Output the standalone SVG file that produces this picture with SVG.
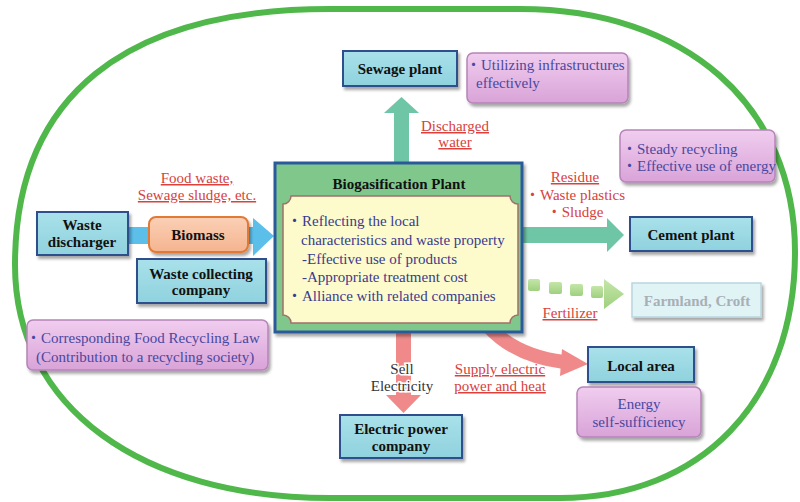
<svg xmlns="http://www.w3.org/2000/svg" width="800" height="502" viewBox="0 0 800 502">
<defs>
<filter id="sh" x="-10%" y="-10%" width="130%" height="150%"><feDropShadow dx="2" dy="3" stdDeviation="1.8" flood-color="#000" flood-opacity="0.35"/></filter>
<linearGradient id="gBlue" x1="0" y1="0" x2="0" y2="1"><stop offset="0" stop-color="#a9e1ea"/><stop offset="1" stop-color="#8fd2de"/></linearGradient>
<linearGradient id="gPink" x1="0" y1="0" x2="0" y2="1"><stop offset="0" stop-color="#f0cdef"/><stop offset="1" stop-color="#d9a3d8"/></linearGradient>
<linearGradient id="gOrange" x1="0" y1="0" x2="0" y2="1"><stop offset="0" stop-color="#fbd0b6"/><stop offset="1" stop-color="#f5b48f"/></linearGradient>
<linearGradient id="gGreenDot" x1="0" y1="0" x2="0" y2="1"><stop offset="0" stop-color="#c4e6a8"/><stop offset="1" stop-color="#9fd07f"/></linearGradient>
<style>
.box{fill:url(#gBlue);stroke:#2e4f8c;stroke-width:2;filter:url(#sh)}
.pbox{fill:url(#gPink);stroke:#b584b8;stroke-width:1.5;filter:url(#sh)}
.lbl{font-family:"Liberation Serif","Times New Roman",serif;font-size:15px;font-weight:bold;fill:#111;text-anchor:middle}
.ptx{font-family:"Liberation Serif","Times New Roman","Noto Sans CJK JP",serif;font-size:15px;fill:#4848a0}
.itx{font-family:"Liberation Serif","Times New Roman","Noto Sans CJK JP",serif;font-size:15px;fill:#3a3a8e}
.red{font-family:"Liberation Serif","Times New Roman","Noto Sans CJK JP",serif;font-size:15px;fill:#d8413c;text-anchor:middle}
.ul{text-decoration:underline}
.teal{fill:#6fc6a7}
.pinkA{fill:#f08a8a}
</style>
</defs>
<rect width="800" height="502" fill="#fff"/>
<path d="M15 265 C15 96 125 9 330 9 L520 9 C685 9 795 105 795 252 C795 401 701 498 560 498 L330 498 C141 498 15 407 15 265 Z" fill="none" stroke="#50b84b" stroke-width="6"/>

<g id="connectors">
<!-- biomass flow -->
<polygon points="128,227 253,227 253,218 274,236 253,256 253,244 128,244" fill="#5bbfea"/>
<!-- discharged water (up) -->
<polygon class="teal" points="394,164 394,113 384,113 401.5,97 419,113 409,113 409,164"/>
<!-- residue to cement -->
<polygon class="teal" points="522,227 607,227 607,218 624,235 607,252 607,243 522,243"/>
<!-- fertilizer dotted -->
<g fill="url(#gGreenDot)">
<rect x="528" y="279" width="12" height="12" rx="2"/>
<rect x="549" y="282" width="13" height="12" rx="2"/>
<rect x="570" y="284" width="13" height="12" rx="2"/>
<rect x="591" y="286" width="12" height="12" rx="2"/>
<polygon points="604,279 624,294 604,309"/>
</g>
<!-- sell electricity (down) -->
<polygon class="pinkA" points="396,332 396,395 386,395 403.5,413 421,395 411,395 411,332"/>
<!-- supply to local area -->
<path d="M488 326 Q515 356 564 362" fill="none" stroke="#f08a8a" stroke-width="14"/>
<polygon class="pinkA" points="562,349 588,364 560,376"/>
</g>

<g id="waste-discharger">
<rect class="box" x="37" y="212" width="91" height="43"/>
<text class="lbl" x="82" y="230">Waste</text>
<text class="lbl" x="82" y="247">discharger</text>
</g>
<g id="biomass">
<rect x="149" y="217" width="99" height="35" rx="7" fill="url(#gOrange)" stroke="#e07a36" stroke-width="2" filter="url(#sh)"/>
<text class="lbl" x="198" y="240">Biomass</text>
</g>
<g id="label-food-waste">
<text class="red ul" x="197" y="183">Food waste,</text>
<text class="red ul" x="197" y="200">Sewage sludge, etc.</text>
</g>
<g id="waste-collecting-company">
<rect class="box" x="137" y="259" width="129" height="44"/>
<text class="lbl" x="201" y="279">Waste collecting</text>
<text class="lbl" x="201" y="295">company</text>
</g>
<g id="food-recycling-law">
<rect class="pbox" x="27" y="320" width="241" height="50" rx="6"/>
<text class="ptx" x="26" y="343">・Corresponding Food Recycling Law</text>
<text class="ptx" x="36" y="362">(Contribution to a recycling society)</text>
</g>

<g id="biogasification-plant">
<rect x="275" y="163" width="247" height="169" fill="#80c78c" stroke="#2a5a9c" stroke-width="3" filter="url(#sh)"/>
<text class="lbl" x="399" y="189">Biogasification Plant</text>
<path d="M291 196 H510 A8 8 0 0 0 518 204 V315 A8 8 0 0 0 510 323 H291 A8 8 0 0 0 283 315 V204 A8 8 0 0 0 291 196 Z" fill="#fdfacc" stroke="#a0706a" stroke-width="1.5"/>
<text class="itx" x="287" y="226">・Reflecting the local</text>
<text class="itx" x="301" y="245">characteristics and waste property</text>
<text class="itx" x="302" y="264">-Effective use of  products</text>
<text class="itx" x="302" y="282">-Appropriate treatment cost</text>
<text class="itx" x="287" y="301">・Alliance with related companies</text>
</g>

<g id="sewage-plant">
<rect class="box" x="343" y="51" width="114" height="35"/>
<text class="lbl" x="400" y="74">Sewage plant</text>
</g>
<g id="infrastructures-note">
<rect class="pbox" x="467" y="53" width="161" height="50" rx="6"/>
<text class="ptx" x="466" y="70">・Utilizing infrastructures</text>
<text class="ptx" x="476" y="88">effectively</text>
</g>
<g id="label-discharged-water">
<text class="red ul" x="455" y="131">Discharged</text>
<text class="red ul" x="455" y="147">water</text>
</g>

<g id="recycling-note">
<rect class="pbox" x="620" y="130" width="155" height="52" rx="6"/>
<text class="ptx" x="622" y="154">・Steady recycling</text>
<text class="ptx" x="622" y="171">・Effective use of energy</text>
</g>
<g id="label-residue">
<text class="red ul" x="575" y="182">Residue</text>
<text class="red" x="575" y="200">・Waste plastics</text>
<text class="red" x="575" y="217">・Sludge</text>
</g>
<g id="cement-plant">
<rect class="box" x="630" y="217" width="122" height="34"/>
<text class="lbl" x="691" y="240">Cement plant</text>
</g>
<g id="farmland">
<rect x="632" y="283" width="129" height="34" fill="#e0f3f5" stroke="#b8d6de" stroke-width="1.5" filter="url(#sh)"/>
<text class="lbl" x="697" y="306" style="fill:#a8afb6">Farmland, Croft</text>
</g>
<g id="label-fertilizer">
<text class="red ul" x="570" y="318">Fertilizer</text>
</g>

<g id="label-sell-electricity">
<text x="402" y="374" font-family="Liberation Serif, Times New Roman, serif" font-size="15" fill="#333" text-anchor="middle" stroke="#fff" stroke-width="3" paint-order="stroke">Sell</text>
<text x="402" y="391" font-family="Liberation Serif, Times New Roman, serif" font-size="15" fill="#333" text-anchor="middle" stroke="#fff" stroke-width="3" paint-order="stroke">Electricity</text>
</g>
<g id="electric-power-company">
<rect class="box" x="340" y="415" width="122" height="43"/>
<text class="lbl" x="401" y="434">Electric power</text>
<text class="lbl" x="401" y="451">company</text>
</g>
<g id="label-supply">
<text class="red ul" x="500" y="374">Supply electric</text>
<text class="red ul" x="500" y="391">power and heat</text>
</g>
<g id="local-area">
<rect class="box" x="588" y="347" width="106" height="35"/>
<text class="lbl" x="641" y="371">Local area</text>
</g>
<g id="energy-self-sufficiency">
<rect class="pbox" x="577" y="387" width="124" height="50" rx="6"/>
<text class="ptx" x="639" y="409" text-anchor="middle">Energy</text>
<text class="ptx" x="639" y="427" text-anchor="middle">self-sufficiency</text>
</g>
</svg>
